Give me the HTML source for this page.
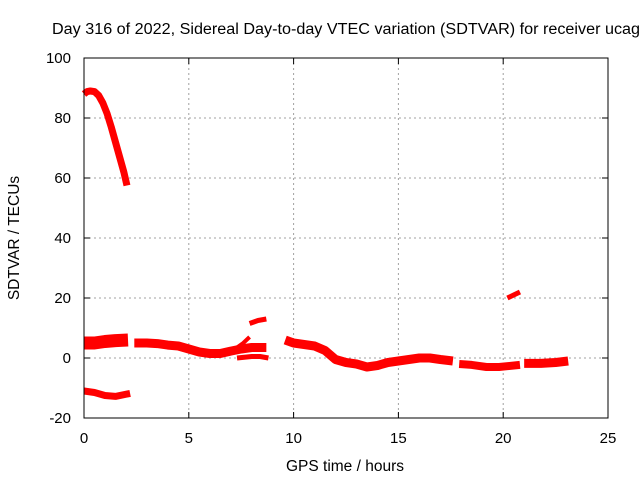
<!DOCTYPE html>
<html><head><meta charset="utf-8"><style>
body{margin:0;background:#fff}
svg text{font-family:"Liberation Sans",sans-serif;font-size:14px;fill:#000}
</style></head><body>
<svg width="640" height="480">
<rect width="640" height="480" fill="#fff"/>
<text x="52" y="34" textLength="588" lengthAdjust="spacingAndGlyphs" style="font-size:15.5px">Day 316 of 2022, Sidereal Day-to-day VTEC variation (SDTVAR) for receiver ucag</text>
<g id="grid"></g>
<g id="series"></g>
<rect x="84" y="58" width="524" height="360" fill="none" stroke="#000"/>
<g id="ticks"></g>
<text x="345" y="471" text-anchor="middle" style="font-size:15.5px">GPS time / hours</text>
<text transform="translate(19,238) rotate(-90)" text-anchor="middle" style="font-size:15.5px">SDTVAR / TECUs</text>
</svg>
<script>
const xTicks=[0,5,10,15,20,25];
const yTicks=[-20,0,20,40,60,80,100];
const segHigh=[[0,88],[0.15,88.8],[0.3,89],[0.5,88.8],[0.7,87.5],[0.9,85],[1.1,81.5],[1.3,77],[1.5,72],[1.7,67],[1.9,62],[2.05,57.5]];
const segTopLeft=[[0,5],[0.5,5],[1,5.5],[1.5,5.8],[2.1,6]];
const segMid=[[2.4,5],[3,5],[3.5,4.8],[4,4.3],[4.5,4],[5,3],[5.5,2],[6,1.5],[6.5,1.5],[7,2.3],[7.5,3],[8,3.5],[8.7,3.5]];
const segSpike=[[7.3,3.5],[7.6,5],[7.9,7]];
const segLow=[[7.3,0],[8,0.5],[8.4,0.5],[8.8,0]];
const segBump=[[7.9,11.5],[8.3,12.5],[8.7,13]];
const segNeg=[[0,-11],[0.5,-11.5],[1,-12.5],[1.5,-12.8],[2.2,-11.8]];
const segMain=[[9.6,6],[10,5],[10.5,4.5],[11,4],[11.5,2.5],[12,-0.5],[12.5,-1.5],[13,-2],[13.5,-3],[14,-2.5],[14.5,-1.5],[15,-1],[15.5,-0.5],[16,0],[16.5,0],[17,-0.5],[17.6,-1]];
const segLate=[[17.9,-2],[18.5,-2.3],[19.2,-3],[19.8,-3],[20.8,-2.3]];
const segEnd=[[21,-1.8],[21.8,-1.8],[22.5,-1.5],[23.1,-1]];
const segSpike2=[[20.2,20],[20.5,21],[20.8,22]];
const X=v=>84+v*524/25, Y=v=>358-v*3;
const ns="http://www.w3.org/2000/svg";
const grid=document.getElementById('grid'),ticks=document.getElementById('ticks'),ser=document.getElementById('series');
function mk(tag,attrs,parent){const e=document.createElementNS(ns,tag);for(const k in attrs)e.setAttribute(k,attrs[k]);parent.appendChild(e);return e;}
xTicks.forEach(t=>{
 if(t>0&&t<25){const g=mk('line',{x1:X(t),x2:X(t),y1:58,y2:418,stroke:'#a0a0a0','stroke-dasharray':'2,3'},grid);
 
 }
 mk('line',{x1:X(t),x2:X(t),y1:418,y2:412,stroke:'#000'},ticks);
 mk('line',{x1:X(t),x2:X(t),y1:58,y2:64,stroke:'#000'},ticks);
 const l=mk('text',{x:X(t),y:443,'text-anchor':'middle',style:'font-size:15px'},ticks);l.textContent=t;
 
 
});
yTicks.forEach(t=>{
 if(t>-20&&t<100){const g=mk('line',{x1:84,x2:608,y1:Y(t),y2:Y(t),stroke:'#a0a0a0','stroke-dasharray':'2,3'},grid);
 
 }
 mk('line',{x1:84,x2:90,y1:Y(t),y2:Y(t),stroke:'#000'},ticks);
 mk('line',{x1:602,x2:608,y1:Y(t),y2:Y(t),stroke:'#000'},ticks);
 const l=mk('text',{x:71,y:Y(t)+5,'text-anchor':'end',style:'font-size:15px'},ticks);l.textContent=t;
 
 
});
[[segHigh,7],[segTopLeft,13],[segMid,9],[segSpike,4],[segLow,5],[segBump,5],[segNeg,7],[segMain,9],[segLate,8],[segEnd,9],[segSpike2,5]].forEach(([s,w])=>{
 const p=mk('polyline',{points:s.map(d=>X(d[0])+','+Y(d[1])).join(' '),fill:'none',stroke:'#ff0000','stroke-width':w,'stroke-linejoin':'round'},ser);
 
 
});
</script>
</body></html>
